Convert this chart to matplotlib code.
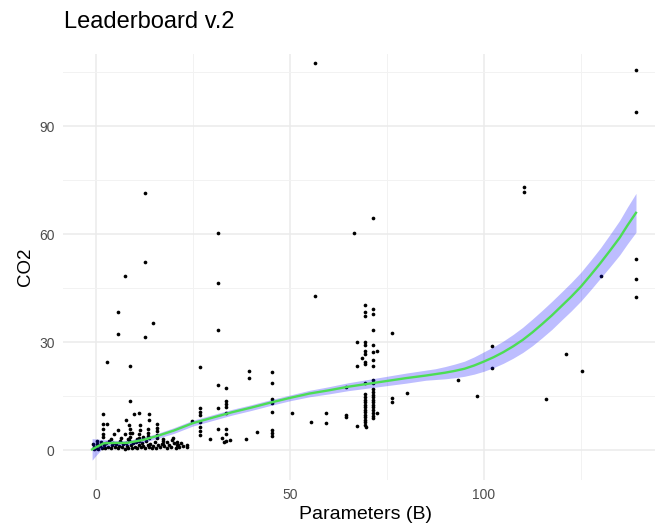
import numpy as np
import matplotlib
matplotlib.use("Agg")
import matplotlib.pyplot as plt
from matplotlib.ticker import MultipleLocator

plt.rcParams['font.family'] = ['Liberation Sans', 'DejaVu Sans']

# scatter points: (parameters in B, CO2)
upper_pts = [
    (56.4, 107.6), (12.6, 71.5), (31.5, 60.4), (66.5, 60.3), (71.4, 64.5),
    (12.6, 52.3), (7.6, 48.3), (31.5, 46.5), (56.4, 42.9), (5.7, 38.3),
    (14.6, 35.4), (5.7, 32.2), (12.6, 31.5), (31.5, 33.3), (2.8, 24.5),
    (8.8, 23.4), (110.3, 73.0), (110.3, 71.7), (139.2, 105.5), (139.2, 93.8),
    (139.2, 53.0), (139.2, 47.5), (139.2, 42.5), (130.2, 48.3), (102.2, 29.0),
    (102.2, 22.8), (93.3, 19.4), (98.2, 15.0), (80.2, 15.8), (116.0, 14.2),
    (121.1, 26.7), (125.2, 21.9), (76.4, 32.6), (76.4, 14.6), (76.4, 13.4),
]

mid_pts = [
    (26.8, 23.1), (31.5, 18.2), (33.5, 17.3), (26.8, 11.6), (26.8, 10.6),
    (26.8, 9.7), (24.7, 8.1), (26.8, 7.9), (26.8, 6.5), (26.8, 5.4),
    (26.8, 4.2), (31.5, 11.6), (31.5, 6.0), (33.5, 13.7), (33.5, 12.8),
    (33.5, 11.9), (33.5, 10.2), (33.5, 6.0), (33.5, 4.6), (32.4, 3.3),
    (33.5, 2.6), (34.5, 2.8), (33.0, 2.3), (29.5, 3.2), (38.6, 3.2),
    (41.6, 4.9), (39.5, 22.0), (39.5, 19.9), (45.5, 21.6), (45.5, 18.7),
    (45.5, 14.1), (45.5, 13.1), (45.5, 10.6), (45.5, 5.5), (45.5, 4.7),
    (45.5, 3.9), (50.5, 10.4), (55.5, 7.9), (59.4, 10.2), (59.4, 7.6),
    (64.4, 9.7), (64.4, 9.3), (64.4, 17.6),
]

column_pts = [
    (69.3, 40.3), (69.3, 38.4), (69.3, 37.2), (69.3, 29.9), (69.3, 29.2),
    (69.3, 27.5), (69.3, 26.8), (69.3, 24.5), (69.3, 23.9), (69.3, 18.5),
    (69.3, 15.5), (69.3, 14.8), (69.3, 14.0), (69.3, 13.3), (69.3, 12.6),
    (69.3, 11.9), (69.3, 11.2), (69.3, 10.5), (69.3, 9.8), (69.3, 9.1),
    (69.3, 8.4), (69.3, 7.7), (69.3, 6.9), (67.3, 30.1), (67.3, 23.3),
    (67.3, 6.6), (68.5, 25.6), (69.6, 6.5),
    (71.3, 39.1), (71.3, 37.8), (71.3, 33.3), (71.3, 29.2), (71.3, 27.3),
    (71.3, 25.0), (71.3, 23.3), (71.3, 19.6), (71.3, 18.7), (71.3, 17.0),
    (71.3, 16.2), (71.3, 15.4), (71.3, 14.7), (71.3, 14.0), (71.3, 13.3),
    (71.3, 12.6), (71.3, 11.9), (71.3, 11.2), (71.3, 10.4), (71.3, 9.6),
    (71.3, 9.0), (72.4, 27.6), (72.4, 10.2),
]

left_pts = [
    (1.7, 9.9), (8.8, 13.6), (9.8, 9.9), (13.7, 9.9), (13.7, 8.5),
    (2.8, 7.2), (1.7, 7.2), (1.7, 5.8), (1.7, 4.6), (1.7, 3.7),
    (5.6, 5.7), (4.7, 4.4), (7.5, 4.4), (7.7, 8.5), (8.6, 7.0),
    (8.8, 6.0), (8.8, 4.8), (8.8, 3.7), (9.4, 4.8), (11.2, 10.2),
    (11.2, 4.4), (11.2, 3.4), (11.2, 2.6), (11.3, 6.9), (11.3, 5.6),
    (13.5, 5.9), (13.5, 4.8), (13.5, 3.9), (13.7, 3.3), (15.7, 7.2),
    (15.7, 6.2), (15.7, 5.2), (15.7, 4.3), (15.7, 3.5), (17.3, 3.2),
    (17.3, 2.4), (17.3, 1.7), (18.4, 2.3), (19.5, 2.8), (20.8, 2.3),
    (20.8, 1.4), (19.8, 3.4), (22.0, 2.0), (23.4, 1.5), (23.4, 0.9),
    (22.5, 1.2), (21.5, 0.8), (0.3, 2.5), (0.5, 1.5), (-0.5, 1.0),
    (0.0, 0.5), (-0.8, 1.8), (-0.5, 0.3),
    (0.0, 0.8), (0.3, 1.6), (0.6, 0.4), (1.0, 1.2), (1.2, 2.2),
    (1.5, 0.7), (2.0, 1.5), (2.3, 0.5), (2.7, 1.9), (3.0, 1.0),
    (3.4, 2.6), (3.8, 0.6), (4.1, 1.4), (4.5, 2.1), (4.9, 0.9),
    (5.2, 1.7), (5.6, 0.5), (6.0, 1.1), (6.3, 2.4), (6.7, 0.8),
    (7.0, 1.6), (7.4, 0.4), (7.7, 2.0), (8.0, 1.2), (8.3, 0.6),
    (8.6, 2.8), (8.9, 1.4), (9.2, 0.7), (9.6, 1.9), (10.0, 1.0),
    (10.3, 2.3), (10.7, 0.5), (11.0, 1.5), (11.5, 0.9), (11.8, 2.0),
    (12.2, 1.2), (12.6, 0.6), (12.9, 2.5), (13.3, 1.3), (13.7, 0.8),
    (14.0, 1.8), (14.4, 0.5), (14.8, 1.1), (15.2, 2.2), (15.6, 0.7),
    (16.0, 1.4), (16.5, 0.9), (17.0, 1.8), (17.6, 1.1), (18.2, 0.6),
    (18.8, 1.5), (19.4, 0.9), (20.0, 1.9), (20.6, 0.7), (21.2, 1.3),
    (8.2, 3.2), (10.5, 3.0), (6.5, 3.3), (12.0, 3.6), (4.0, 3.0),
]

# smoothed fit with its confidence band
smooth_x = [-1.0, 0.0, 2.0, 5.0, 8.0, 12.0, 16.0, 20.0, 25.0, 30.0, 35.0, 40.0,
            45.0, 50.0, 55.0, 60.0, 65.0, 70.0, 75.0, 80.0, 85.0, 87.5, 90.0,
            92.5, 95.0, 97.5, 100.0, 102.5, 105.0, 107.5, 110.0, 112.5, 115.0,
            117.5, 120.0, 122.5, 125.0, 127.5, 130.0, 132.5, 135.0, 137.0, 139.2]
smooth_y = [0.2, 0.8, 1.9, 2.0, 2.0, 2.8, 4.0, 5.4, 7.5, 9.0, 10.5, 11.8,
            13.2, 14.5, 15.7, 16.6, 17.6, 18.4, 19.2, 20.0, 20.7, 21.1, 21.5,
            22.0, 22.6, 23.5, 24.6, 25.8, 27.2, 28.8, 30.6, 32.7, 35.0,
            37.4, 40.0, 42.6, 45.4, 48.6, 51.9, 55.4, 59.0, 62.4, 65.9]
band_lo = [-2.8, -1.5, 0.9, 1.3, 1.3, 2.1, 3.3, 4.6, 6.7, 8.2, 9.7, 11.0,
           12.4, 13.7, 14.8, 15.6, 16.5, 17.2, 17.9, 18.6, 19.4, 19.6, 19.8,
           20.1, 20.5, 21.1, 21.9, 22.9, 24.1, 25.5, 27.1, 29.0, 31.2,
           33.5, 36.1, 38.65, 41.4, 44.5, 47.7, 50.9, 54.2, 57.3, 60.5]
band_hi = [3.2, 3.1, 2.9, 2.7, 2.7, 3.5, 4.7, 6.2, 8.3, 9.8, 11.3, 12.6,
           14.0, 15.3, 16.6, 17.6, 18.7, 19.6, 20.5, 21.4, 22.2, 22.6, 23.2,
           23.9, 24.7, 25.9, 27.3, 28.7, 30.3, 32.1, 34.1, 36.4, 38.8,
           41.3, 43.9, 46.55, 49.4, 52.7, 56.1, 59.9, 63.8, 67.5, 71.3]

all_pts = np.array(upper_pts + mid_pts + column_pts + left_pts)

fig = plt.figure(figsize=(6.55, 5.27), dpi=100)
ax = fig.add_axes([63 / 655, 47 / 527, 592 / 655, 426 / 527])

ax.scatter(all_pts[:, 0], all_pts[:, 1], s=7, color='black', linewidths=0, zorder=2)
ax.fill_between(smooth_x, band_lo, band_hi, color='#0000ff', alpha=0.26, linewidth=0, zorder=3)
ax.plot(smooth_x, smooth_y, color='#4cdd55', linewidth=1.7, zorder=4)

ax.set_xlim(-8.5, 144.1)
ax.set_ylim(-8.3, 110)
ax.xaxis.set_major_locator(MultipleLocator(50))
ax.xaxis.set_minor_locator(MultipleLocator(25))
ax.yaxis.set_major_locator(MultipleLocator(30))
ax.yaxis.set_minor_locator(MultipleLocator(15))
ax.grid(True, which='major', color='#ebebeb', linewidth=1.1, zorder=0)
ax.grid(True, which='minor', color='#f2f2f2', linewidth=0.7, zorder=0)
ax.set_axisbelow(True)
for side in ax.spines.values():
    side.set_visible(False)
ax.tick_params(which='both', length=0, labelsize=10, labelcolor='#4d4d4d', pad=6)

ax.set_xlabel('Parameters (B)', fontsize=14)
ax.xaxis.set_label_coords(0.511, -0.062)
ax.set_ylabel('CO2', fontsize=13.5, labelpad=4)
fig.text(64 / 655, 1 - 22 / 527, 'Leaderboard v.2', fontsize=17, ha='left', va='center')

fig.savefig('out.png', dpi=100)
